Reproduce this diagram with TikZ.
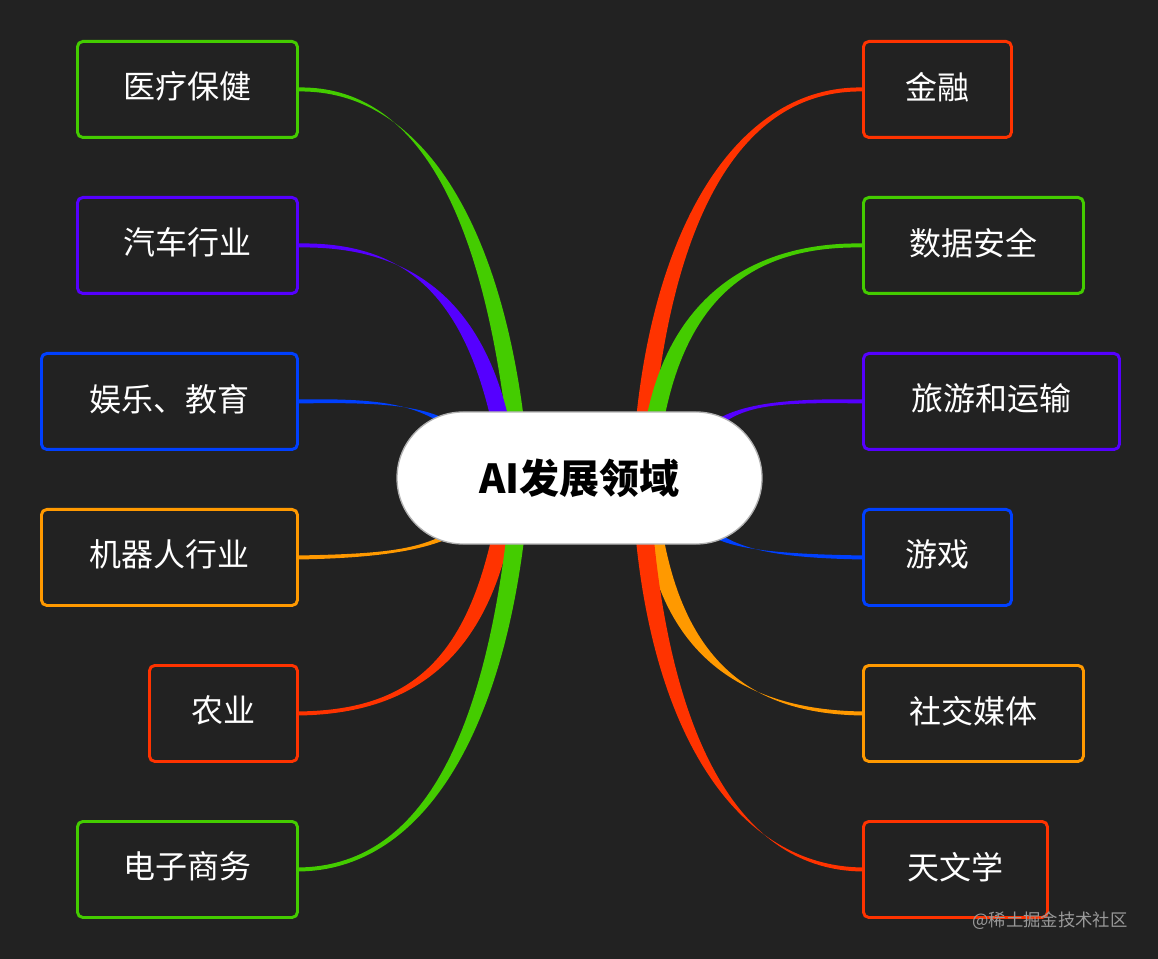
\documentclass[tikz,border=0pt]{standalone}
\usepackage{fontspec}
\setmainfont{Noto Sans CJK SC}
\usetikzlibrary{calc}
\definecolor{bg}{HTML}{222222}
\definecolor{cg}{HTML}{44CC00}
\definecolor{cp}{HTML}{5500FF}
\definecolor{cb}{HTML}{0040FF}
\definecolor{co}{HTML}{FF9900}
\definecolor{cr}{HTML}{FF3300}
\tikzset{box/.style={draw=#1,line width=2.2pt,rounded corners=4pt,fill=bg,text=white,font=\fontsize{24}{28}\selectfont,inner sep=0pt,anchor=north west,text depth=6pt}}
% \branch{color}{node}{c1}{c2}{end}{halfwidth}
\newcommand\branch[6]{%
\fill[#1] ($(#2.east)+(0,-2)$) .. controls ($#3+(0,-2)$) and ($#4+(-#6,0)$) .. ($#5+(-#6,0)$)
 -- ($#5+(#6,0)$) .. controls ($#4+(#6,0)$) and ($#3+(0,2)$) .. ($(#2.east)+(0,2)$) -- cycle;}
\newcommand\rbranch[6]{%
\fill[#1] ($(#2.west)+(0,-2)$) .. controls ($#3+(0,-2)$) and ($#4+(-#6,0)$) .. ($#5+(-#6,0)$)
 -- ($#5+(#6,0)$) .. controls ($#4+(#6,0)$) and ($#3+(0,2)$) .. ($(#2.west)+(0,2)$) -- cycle;}
\begin{document}
\begin{tikzpicture}[x=0.75pt,y=-0.75pt]
\fill[bg] (0,0) rectangle (1158,959);
\useasboundingbox (0,0) rectangle (1158,959);
% left boxes
\node[box=cg,minimum width=220*0.75pt,minimum height=96*0.75pt] (l1) at (76,40) {医疗保健};
\node[box=cp,minimum width=220*0.75pt,minimum height=96*0.75pt] (l2) at (76,196) {汽车行业};
\node[box=cb,minimum width=256*0.75pt,minimum height=96*0.75pt] (l3) at (40,352) {娱乐、教育};
\node[box=co,minimum width=256*0.75pt,minimum height=96*0.75pt] (l4) at (40,508) {机器人行业};
\node[box=cr,minimum width=148*0.75pt,minimum height=96*0.75pt] (l5) at (148,664) {农业};
\node[box=cg,minimum width=220*0.75pt,minimum height=96*0.75pt] (l6) at (76,820) {电子商务};
% right boxes
\node[box=cr,minimum width=148*0.75pt,minimum height=96*0.75pt] (r1) at (862,40) {金融};
\node[box=cg,minimum width=220*0.75pt,minimum height=96*0.75pt] (r2) at (862,196) {数据安全};
\node[box=cp,minimum width=256*0.75pt,minimum height=96*0.75pt] (r3) at (862,352) {旅游和运输};
\node[box=cb,minimum width=148*0.75pt,minimum height=96*0.75pt] (r4) at (862,508) {游戏};
\node[box=co,minimum width=220*0.75pt,minimum height=96*0.75pt] (r5) at (862,664) {社交媒体};
\node[box=cr,minimum width=184*0.75pt,minimum height=96*0.75pt] (r6) at (862,820) {天文学};
% branches
\branch{cg}{l1}{(420,88)}{(490,220)}{(515,420)}{9}
\branch{cp}{l2}{(400,244)}{(470,290)}{(500,420)}{9}
\branch{cb}{l3}{(380,400)}{(420,405)}{(450,425)}{6}
\branch{co}{l4}{(380,556)}{(420,550)}{(450,535)}{6}
\branch{cr}{l5}{(400,712)}{(470,670)}{(500,540)}{9}
\branch{cg}{l6}{(420,868)}{(490,740)}{(515,540)}{9}
\rbranch{cr}{r1}{(740,88)}{(665,220)}{(645,420)}{9}
\rbranch{cg}{r2}{(760,244)}{(680,290)}{(655,420)}{9}
\rbranch{cp}{r3}{(780,400)}{(740,405)}{(715,425)}{6}
\rbranch{cb}{r4}{(780,556)}{(740,550)}{(715,535)}{6}
\rbranch{co}{r5}{(760,712)}{(680,670)}{(655,540)}{9}
\rbranch{cr}{r6}{(740,868)}{(665,740)}{(645,540)}{9}
% center
\node[draw=gray!60,line width=1pt,fill=white,rounded corners=66*0.75pt,minimum width=365*0.75pt,minimum height=132*0.75pt,font=\bfseries\fontsize{30}{34}\selectfont,text=black] (c) at (579.5,478) {AI发展领域};
\node[text=gray!80,font=\fontsize{13}{15}\selectfont] (wm) at (1050,921) {@稀土掘金技术社区};
\end{tikzpicture}
\end{document}
